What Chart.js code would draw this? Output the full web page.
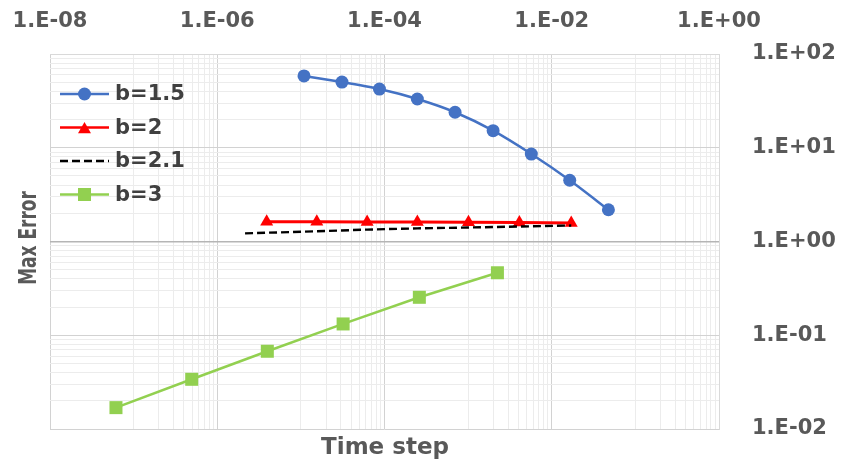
<!DOCTYPE html>
<html><head><meta charset="utf-8">
<script src="https://cdn.jsdelivr.net/npm/chart.js@4/dist/chart.umd.min.js"></script>
<style>html,body{margin:0;padding:0;background:#fff}canvas{display:block}</style>
</head><body>
<canvas id="c" width="843" height="463"></canvas>
<script>
// ---- data ----
const seriesLabels = ['b=1.5', 'b=2', 'b=2.1', 'b=3'];
const b15X = [1.09e-5, 3.1e-5, 8.7e-5, 2.47e-4, 6.98e-4, 1.99e-3, 5.7e-3, 1.64e-2, 4.76e-2];
const b15Y = [58.3, 50.2, 42.3, 33.1, 23.9, 15.2, 8.57, 4.50, 2.18];
const b2X = [3.9e-6, 1.55e-5, 6.2e-5, 2.47e-4, 1.01e-3, 4.1e-3, 1.71e-2];
const b2Y = [1.62, 1.62, 1.61, 1.61, 1.60, 1.59, 1.58];
const b21X = [2.15e-6, 3.9e-6, 1.55e-5, 6.2e-5, 2.47e-4, 1.01e-3, 4.1e-3, 1.71e-2];
const b21Y = [1.22, 1.24, 1.285, 1.34, 1.38, 1.41, 1.445, 1.48];
const b3X = [6.15e-8, 4.95e-7, 3.97e-6, 3.2e-5, 2.61e-4, 2.24e-3];
const b3Y = [0.0169, 0.0339, 0.0675, 0.132, 0.254, 0.464];
const xTickValues = [1e-8, 1e-6, 1e-4, 1e-2, 1];
const xTickLabels = ['1.E-08', '1.E-06', '1.E-04', '1.E-02', '1.E+00'];
const yTickValues = [0.01, 0.1, 1, 10, 100];
const yTickLabels = ['1.E-02', '1.E-01', '1.E+00', '1.E+01', '1.E+02'];
const xTitle = 'Time step';
const yTitle = 'Max Error';

// ---- grid line positions (major + minor) ----
const p = v => Number(v.toPrecision(6));
const xGrid = [...xTickValues];
for (let i = 0; i < xTickValues.length - 1; i++) {
  for (let m = 1; m <= 9; m++) xGrid.push(p(xTickValues[i] * 10 * m));
}
xGrid.sort((a, b) => a - b);
const yGrid = [...yTickValues];
for (let i = 0; i < yTickValues.length - 1; i++) {
  for (let m = 2; m <= 9; m++) yGrid.push(p(yTickValues[i] * m));
}
yGrid.sort((a, b) => a - b);
const idxOf = (arr, v) => arr.findIndex(a => Math.abs(Math.log10(a) - Math.log10(v)) < 1e-6);

const pts = (xs, ys) => xs.map((x, i) => ({ x: x, y: ys[i] }));
const FONT = 'DejaVu Sans';

const styles = [
  { color: '#4472C4', style: 'circle', r: 6.5 },
  { color: '#FF0000', style: 'triangle', r: 7.5 },
  { color: '#000000', style: null, r: 0, dash: [8, 4] },
  { color: '#92D050', style: 'rect', r: 9.2 }
];

const zeroPad = s => { s.paddingLeft = 0; s.paddingRight = 0; s.paddingTop = 0; s.paddingBottom = 0; };

const legendPlugin = {
  id: 'customLegend',
  afterDraw(chart) {
    const ctx = chart.ctx;
    const x0 = 60, x1 = 109, mx = 84.5, tx = 115, y0 = 94, dy = 33.5;
    ctx.save();
    seriesLabels.forEach((lab, i) => {
      const s = styles[i];
      const y = y0 + i * dy;
      ctx.strokeStyle = s.color;
      ctx.fillStyle = s.color;
      ctx.lineWidth = s.dash ? 2.4 : 2.5;
      ctx.setLineDash(s.dash || []);
      ctx.beginPath(); ctx.moveTo(x0, y); ctx.lineTo(x1, y); ctx.stroke();
      ctx.setLineDash([]);
      if (s.style === 'circle') {
        ctx.beginPath(); ctx.arc(mx, y, s.r, 0, Math.PI * 2); ctx.fill();
      } else if (s.style === 'triangle') {
        const r = s.r, yc = y + r * 0.25;
        ctx.beginPath();
        ctx.moveTo(mx, yc - r);
        ctx.lineTo(mx + r * Math.sin(2 * Math.PI / 3), yc - r * Math.cos(2 * Math.PI / 3));
        ctx.lineTo(mx + r * Math.sin(4 * Math.PI / 3), yc - r * Math.cos(4 * Math.PI / 3));
        ctx.closePath(); ctx.fill();
      } else if (s.style === 'rect') {
        ctx.fillRect(mx - 6.5, y - 6.5, 13, 13);
      }
      ctx.fillStyle = '#404040';
      ctx.font = 'bold 21px "' + FONT + '"';
      ctx.textAlign = 'left';
      ctx.textBaseline = 'middle';
      ctx.fillText(lab, tx, y + 1);
    });
    ctx.restore();
  }
};

const titlePlugin = {
  id: 'axisTitles',
  afterDraw(chart) {
    const ctx = chart.ctx;
    ctx.save();
    ctx.fillStyle = '#595959';
    ctx.textAlign = 'center';
    ctx.textBaseline = 'middle';
    ctx.font = 'bold 23px "' + FONT + '"';
    ctx.fillText(xTitle, 385, 448);
    ctx.translate(29, 238);
    ctx.rotate(-Math.PI / 2);
    ctx.scale(1, 1.5);
    ctx.font = 'bold 17px "' + FONT + '"';
    ctx.fillText(yTitle, 0, 0);
    ctx.restore();
  }
};

new Chart(document.getElementById('c'), {
  type: 'line',
  data: {
    datasets: [
      { label: seriesLabels[0], data: pts(b15X, b15Y), borderColor: styles[0].color, backgroundColor: styles[0].color,
        borderWidth: 2.5, pointStyle: 'circle', pointRadius: 6.5, pointBorderWidth: 0, tension: 0.25, order: 4 },
      { label: seriesLabels[1], data: pts(b2X, b2Y), borderColor: styles[1].color, backgroundColor: styles[1].color,
        borderWidth: 3, pointStyle: 'triangle', pointRadius: 7.5, pointBorderWidth: 0, order: 3 },
      { label: seriesLabels[2], data: pts(b21X, b21Y), borderColor: styles[2].color, backgroundColor: styles[2].color,
        borderWidth: 2.4, borderDash: [8, 4], pointRadius: 0, order: 1 },
      { label: seriesLabels[3], data: pts(b3X, b3Y), borderColor: styles[3].color, backgroundColor: styles[3].color,
        borderWidth: 2.5, pointStyle: 'rect', pointRadius: 9.2, pointBorderWidth: 0, order: 2 }
    ]
  },
  options: {
    responsive: false,
    animation: false,
    layout: { padding: { left: 50, right: 0, top: 0, bottom: 34 } },
    plugins: { legend: { display: false }, tooltip: { enabled: false } },
    scales: {
      x: {
        type: 'logarithmic', position: 'top', min: 1e-8, max: 1,
        afterFit: s => { s.height = 54; zeroPad(s); },
        afterBuildTicks: s => { s.ticks = xGrid.map(v => ({ value: v })); },
        border: { color: '#d9d9d9', width: 1 },
        grid: {
          drawTicks: false,
          color: c => (c.tick && idxOf(xTickValues, c.tick.value) >= 0) ? '#d2d2d2' : '#ececec',
          lineWidth: 1
        },
        ticks: {
          autoSkip: false, maxRotation: 0, minRotation: 0, padding: 20,
          color: '#595959', font: { family: FONT, weight: 'bold', size: 21 },
          callback: v => { const i = idxOf(xTickValues, v); return i >= 0 ? xTickLabels[i] : ''; }
        }
      },
      y: {
        type: 'logarithmic', position: 'right', min: 0.01, max: 100,
        afterFit: s => { s.width = 124; zeroPad(s); },
        afterBuildTicks: s => { s.ticks = yGrid.map(v => ({ value: v })); },
        border: { color: '#d9d9d9', width: 1 },
        grid: {
          drawTicks: false,
          color: c => {
            if (!c.tick) return '#ececec';
            if (Math.abs(c.tick.value - 1) < 1e-9) return '#b5b5b5';
            return idxOf(yTickValues, c.tick.value) >= 0 ? '#d2d2d2' : '#ececec';
          },
          lineWidth: c => (c.tick && Math.abs(c.tick.value - 1) < 1e-9) ? 1.5 : 1
        },
        ticks: {
          autoSkip: false, padding: 33,
          color: '#595959', font: { family: FONT, weight: 'bold', size: 21 },
          callback: v => { const i = idxOf(yTickValues, v); return i >= 0 ? yTickLabels[i] : ''; }
        }
      }
    }
  },
  plugins: [legendPlugin, titlePlugin]
});
</script>
</body></html>
